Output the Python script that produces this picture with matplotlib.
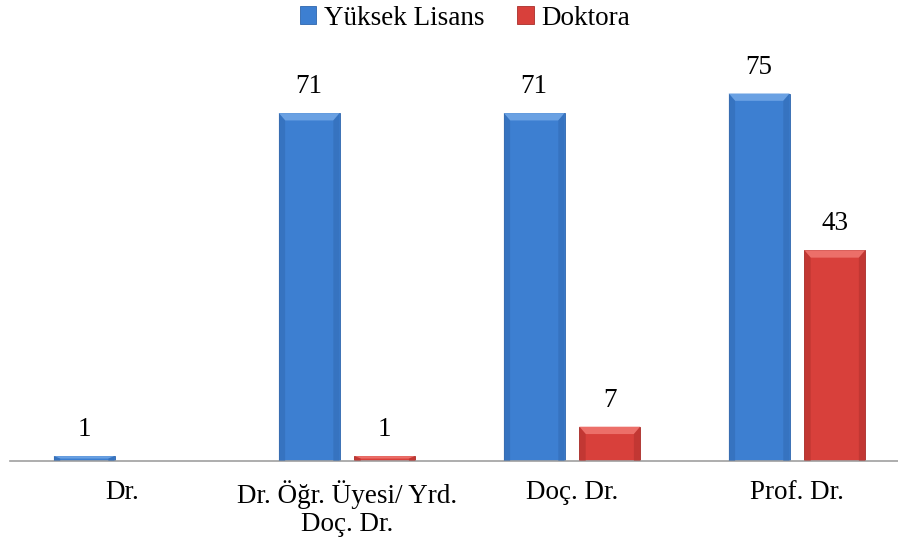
import matplotlib.pyplot as plt
from matplotlib.patches import Polygon
import numpy as np

categories = ['Dr.', 'Dr. Öğr. Üyesi/ Yrd.\nDoç. Dr.', 'Doç. Dr.', 'Prof. Dr.']
yuksek_lisans = [1, 71, 71, 75]
doktora = [0, 1, 7, 43]
series_names = ['Yüksek Lisans', 'Doktora']

plt.rcParams['font.family'] = ['Liberation Serif', 'DejaVu Serif']

fig = plt.figure(figsize=(8.98, 5.39), dpi=100)
ax = fig.add_axes([10 / 898, 78 / 539, 888 / 898, 392 / 539])

x = np.arange(len(categories))
w = 0.27
off = 0.168

# colours: face, light top bevel, dark side
blue = ('#3d7fd1', '#6aa1e3', '#2f66ad')
red = ('#d8403b', '#ec6f69', '#a92e2a')


def bevel(bar, cols):
    x0, y0 = bar.get_x(), bar.get_y()
    bw, bh = bar.get_width(), bar.get_height()
    if bh <= 0:
        return
    bx = 0.028
    by = min(1.5, bh / 2)
    x1, y1 = x0 + bw, y0 + bh
    # top
    ax.add_patch(Polygon([(x0, y1), (x1, y1), (x1 - bx, y1 - by), (x0 + bx, y1 - by)],
                         closed=True, facecolor=cols[1], edgecolor='none', zorder=3))
    # sides
    ax.add_patch(Polygon([(x0, y0), (x0, y1), (x0 + bx, y1 - by), (x0 + bx, y0)],
                         closed=True, facecolor=cols[2], edgecolor='none', alpha=0.45, zorder=3))
    ax.add_patch(Polygon([(x1, y0), (x1, y1), (x1 - bx, y1 - by), (x1 - bx, y0)],
                         closed=True, facecolor=cols[2], edgecolor='none', alpha=0.45, zorder=3))


b1 = ax.bar(x - off, yuksek_lisans, w, color=blue[0], edgecolor=blue[2], linewidth=0.6,
            label=series_names[0], zorder=2)
b2 = ax.bar(x + off, doktora, w, color=red[0], edgecolor=red[2], linewidth=0.6,
            label=series_names[1], zorder=2)

for bars, vals, cols in [(b1, yuksek_lisans, blue), (b2, doktora, red)]:
    for bar, v in zip(bars, vals):
        bevel(bar, cols)
        if v > 0:
            ax.annotate(str(v), (bar.get_x() + bar.get_width() / 2, bar.get_height()),
                        xytext=(0, 10), textcoords='offset points',
                        ha='center', va='bottom', fontsize=19.5)

ax.set_xlim(-0.498, 3.449)
ax.set_ylim(0, 80)
ax.set_xticks(x)
ax.set_xticklabels(categories, fontsize=19.5, linespacing=1.12)
ax.tick_params(axis='x', length=0, pad=14)
ax.set_yticks([])
for s in ['top', 'right', 'left']:
    ax.spines[s].set_visible(False)
ax.spines['bottom'].set_color('#a0a0a0')
ax.spines['bottom'].set_linewidth(1.2)

leg = fig.legend(loc='upper center', bbox_to_anchor=(0.518, 1.035), ncol=2, frameon=False,
                 fontsize=19.5, handlelength=0.6, handleheight=0.6, handletextpad=0.3,
                 columnspacing=1.2)

fig.savefig('out.png', dpi=100)
